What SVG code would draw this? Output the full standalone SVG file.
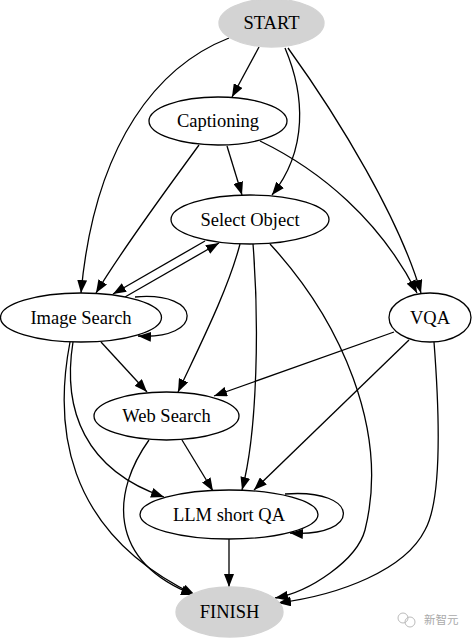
<svg xmlns="http://www.w3.org/2000/svg" width="472" height="640" viewBox="0 0 472 640">
<style>
  .node ellipse { stroke: #000; stroke-width: 1.3; fill: #fff; }
  .node.term ellipse { fill: #d3d3d3; stroke: #d3d3d3; }
  .node text { font-family: "Liberation Serif", "Times New Roman", serif; font-size: 18.5px; fill: #000; text-anchor: middle; }
  #edges path { fill: none; stroke: #000; stroke-width: 1.3; marker-end: url(#arrow); }
  .wm { font-family: "Noto Sans CJK SC", sans-serif; font-size: 11.5px; fill: #aaa; }
</style>
<defs>
  <marker id="arrow" viewBox="0 0 13 10" refX="13" refY="5" markerWidth="13" markerHeight="10" markerUnits="userSpaceOnUse" orient="auto">
    <path d="M0,0 L13,5 L0,10 z" fill="#000"/>
  </marker>
</defs>
<rect width="472" height="640" fill="#fff"/>
<g id="edges">
  <path d="M259,47 L232,97"/>
  <path d="M229,38 C160,65 95,140 81,293"/>
  <path d="M285,48 C305,95 308,150 272,195"/>
  <path d="M288,48 C340,120 400,220 421,293"/>
  <path d="M199,145 C170,185 125,245 96,293"/>
  <path d="M227,146 L242,195"/>
  <path d="M260,141 C320,170 380,220 417,293"/>
  <path d="M205,241 L113,294"/>
  <path d="M125,297 L219,243"/>
  <path d="M135,297 C204,291 204,340 138,336"/>
  <path d="M240,244 C228,290 200,345 178,392"/>
  <path d="M253,244 C259,320 258,430 242,490"/>
  <path d="M270,244 C340,320 390,430 365,530 C357,560 310,592 275,598"/>
  <path d="M101,342 L147,392"/>
  <path d="M73,342 C62,410 85,470 164,497"/>
  <path d="M70,342 C55,420 60,530 195,595"/>
  <path d="M394,332 L214,396"/>
  <path d="M409,340 L254,490"/>
  <path d="M434,342 C440,420 442,500 425,530 C405,570 340,595 278,603"/>
  <path d="M182,440 L213,491"/>
  <path d="M149,440 C113,490 105,560 194,595"/>
  <path d="M285,494 C362,488 362,538 290,533"/>
  <path d="M229,539 L229,587"/>
</g>
<g id="node-start" class="node term">
  <ellipse cx="271.5" cy="23" rx="52.5" ry="24"/>
  <text x="271.5" y="29">START</text>
</g>
<g id="node-captioning" class="node">
  <ellipse cx="218" cy="121" rx="69" ry="24"/>
  <text x="218" y="127">Captioning</text>
</g>
<g id="node-select-object" class="node">
  <ellipse cx="250" cy="219.5" rx="79" ry="24.5"/>
  <text x="250" y="225.5">Select Object</text>
</g>
<g id="node-image-search" class="node">
  <ellipse cx="81" cy="317.5" rx="80.5" ry="24.5"/>
  <text x="81" y="323.5">Image Search</text>
</g>
<g id="node-vqa" class="node">
  <ellipse cx="430" cy="317.5" rx="41" ry="24.5"/>
  <text x="430" y="323.5">VQA</text>
</g>
<g id="node-web-search" class="node">
  <ellipse cx="166.5" cy="416" rx="72.5" ry="24"/>
  <text x="166.5" y="422">Web Search</text>
</g>
<g id="node-llm-short-qa" class="node">
  <ellipse cx="229" cy="514.5" rx="89" ry="24.5"/>
  <text x="229" y="520.5">LLM short QA</text>
</g>
<g id="node-finish" class="node term">
  <ellipse cx="229.5" cy="612" rx="53.5" ry="25"/>
  <text x="229.5" y="618">FINISH</text>
</g>
<g id="watermark">
  <circle cx="403" cy="618" r="5" fill="none" stroke="#bbb" stroke-width="1"/>
  <circle cx="410" cy="622" r="5" fill="none" stroke="#bbb" stroke-width="1"/>
  <text class="wm" x="424" y="624">新智元</text>
</g>
</svg>
